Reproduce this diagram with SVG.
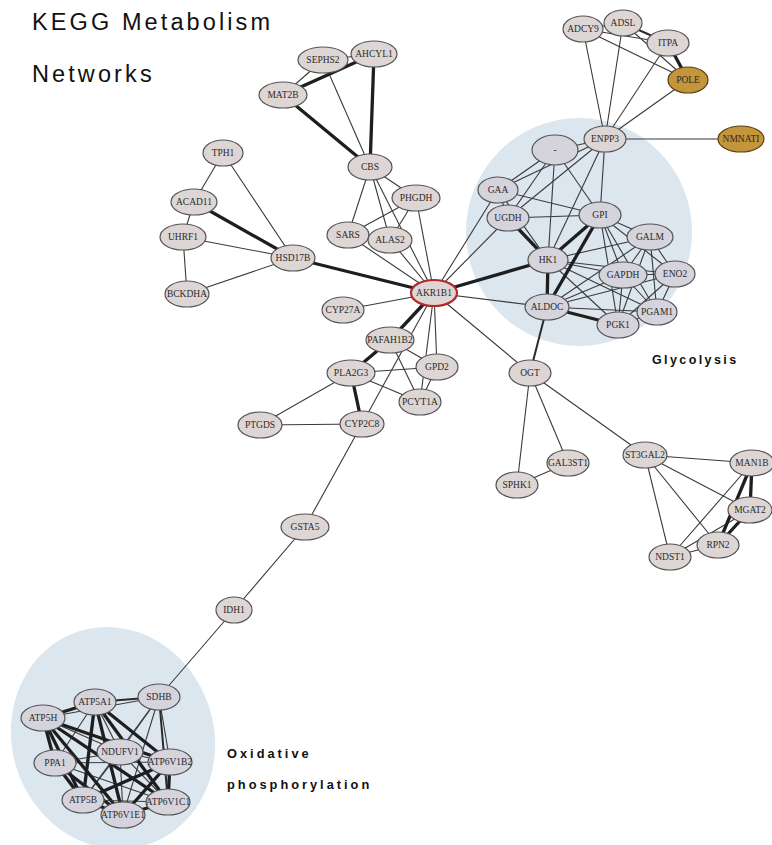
<svg xmlns="http://www.w3.org/2000/svg" width="772" height="845" viewBox="0 0 772 845">
<style>
.bg{fill:#dbe6ee}
.e{stroke:#3a3a3a;stroke-width:1.1;fill:none}
.t{stroke:#1e1e1e;stroke-width:3.3;fill:none}
.m{stroke:#2a2a2a;stroke-width:2;fill:none}
.n ellipse{fill:#ddd6d4;stroke:#555;stroke-width:1.2}
.g ellipse{fill:#d5d3dc;stroke:#555;stroke-width:1.2}
.o ellipse{fill:#c4953a;stroke:#5a4010;stroke-width:1.2}
.r ellipse{fill:#ddd6d4;stroke:#b02a2a;stroke-width:2.2}
.n text,.g text,.o text,.r text{font-family:"Liberation Serif",serif;font-size:9.5px;fill:#2a2a2a;text-anchor:middle}
.title{font-family:"Liberation Sans",Arial,sans-serif;font-size:23.5px;fill:#111;letter-spacing:3.1px}
.cl{font-family:"Liberation Sans",Arial,sans-serif;font-size:12.5px;font-weight:bold;fill:#111;letter-spacing:2.4px}
.cl2{font-family:"Liberation Sans",Arial,sans-serif;font-size:12.8px;font-weight:bold;fill:#111;letter-spacing:3px}
</style>
<rect width="772" height="845" fill="#fff"/>
<text class="title" x="32" y="30">KEGG Metabolism</text>
<text class="title" x="32" y="82">Networks</text>
<ellipse class="bg" cx="579" cy="232" rx="113" ry="114"/>
<ellipse class="bg" cx="113" cy="738" rx="101" ry="112" transform="rotate(-18 113 738)"/>
<text class="cl" x="652" y="364">Glycolysis</text>
<text class="cl2" x="227" y="758">Oxidative</text>
<text class="cl2" x="227" y="789">phosphorylation</text>
<g id="connectors">
<line class="e" x1="323" y1="60" x2="374" y2="54"/>
<line class="e" x1="323" y1="60" x2="283" y2="95"/>
<line class="e" x1="323" y1="60" x2="370" y2="167"/>
<line class="e" x1="370" y1="167" x2="348" y2="235"/>
<line class="e" x1="370" y1="167" x2="390" y2="240"/>
<line class="e" x1="370" y1="167" x2="416" y2="198"/>
<line class="e" x1="370" y1="167" x2="434" y2="293"/>
<line class="e" x1="416" y1="198" x2="348" y2="235"/>
<line class="e" x1="416" y1="198" x2="390" y2="240"/>
<line class="e" x1="416" y1="198" x2="434" y2="293"/>
<line class="e" x1="348" y1="235" x2="434" y2="293"/>
<line class="e" x1="390" y1="240" x2="434" y2="293"/>
<line class="e" x1="223" y1="153" x2="194" y2="202"/>
<line class="e" x1="223" y1="153" x2="293" y2="258"/>
<line class="e" x1="194" y1="202" x2="183" y2="237"/>
<line class="e" x1="183" y1="237" x2="293" y2="258"/>
<line class="e" x1="183" y1="237" x2="187" y2="294"/>
<line class="e" x1="187" y1="294" x2="293" y2="258"/>
<line class="e" x1="434" y1="293" x2="343" y2="310"/>
<line class="e" x1="434" y1="293" x2="437" y2="367"/>
<line class="e" x1="434" y1="293" x2="420" y2="402"/>
<line class="e" x1="434" y1="293" x2="362" y2="424"/>
<line class="e" x1="434" y1="293" x2="530" y2="373"/>
<line class="e" x1="434" y1="293" x2="547" y2="307"/>
<line class="e" x1="434" y1="293" x2="498" y2="190"/>
<line class="e" x1="434" y1="293" x2="508" y2="218"/>
<line class="e" x1="390" y1="340" x2="437" y2="367"/>
<line class="e" x1="390" y1="340" x2="420" y2="402"/>
<line class="e" x1="351" y1="373" x2="437" y2="367"/>
<line class="e" x1="351" y1="373" x2="420" y2="402"/>
<line class="e" x1="351" y1="373" x2="260" y2="425"/>
<line class="e" x1="260" y1="425" x2="362" y2="424"/>
<line class="e" x1="437" y1="367" x2="420" y2="402"/>
<line class="e" x1="362" y1="424" x2="305" y2="527"/>
<line class="e" x1="305" y1="527" x2="234" y2="610"/>
<line class="e" x1="234" y1="610" x2="159" y2="697"/>
<line class="e" x1="530" y1="373" x2="517" y2="485"/>
<line class="e" x1="530" y1="373" x2="568" y2="463"/>
<line class="e" x1="530" y1="373" x2="645" y2="455"/>
<line class="m" x1="547" y1="307" x2="530" y2="373"/>
<line class="e" x1="517" y1="485" x2="568" y2="463"/>
<line class="e" x1="645" y1="455" x2="752" y2="463"/>
<line class="e" x1="645" y1="455" x2="750" y2="510"/>
<line class="e" x1="645" y1="455" x2="718" y2="545"/>
<line class="e" x1="645" y1="455" x2="670" y2="557"/>
<line class="e" x1="752" y1="463" x2="670" y2="557"/>
<line class="e" x1="750" y1="510" x2="670" y2="557"/>
<line class="e" x1="670" y1="557" x2="718" y2="545"/>
<line class="e" x1="583" y1="29" x2="623" y2="23"/>
<line class="e" x1="583" y1="29" x2="668" y2="43"/>
<line class="m" x1="623" y1="23" x2="668" y2="43"/>
<line class="e" x1="583" y1="29" x2="688" y2="80"/>
<line class="e" x1="623" y1="23" x2="688" y2="80"/>
<line class="e" x1="605" y1="139" x2="583" y2="29"/>
<line class="e" x1="605" y1="139" x2="623" y2="23"/>
<line class="e" x1="605" y1="139" x2="668" y2="43"/>
<line class="e" x1="605" y1="139" x2="688" y2="80"/>
<line class="e" x1="605" y1="139" x2="741" y2="139"/>
<line class="e" x1="605" y1="139" x2="555" y2="150"/>
<line class="e" x1="605" y1="139" x2="498" y2="190"/>
<line class="e" x1="605" y1="139" x2="508" y2="218"/>
<line class="e" x1="605" y1="139" x2="548" y2="260"/>
<line class="e" x1="605" y1="139" x2="600" y2="215"/>
<line class="e" x1="555" y1="150" x2="498" y2="190"/>
<line class="e" x1="555" y1="150" x2="508" y2="218"/>
<line class="e" x1="555" y1="150" x2="548" y2="260"/>
<line class="e" x1="555" y1="150" x2="600" y2="215"/>
<line class="e" x1="498" y1="190" x2="508" y2="218"/>
<line class="e" x1="498" y1="190" x2="600" y2="215"/>
<line class="e" x1="498" y1="190" x2="548" y2="260"/>
<line class="e" x1="508" y1="218" x2="600" y2="215"/>
<line class="e" x1="600" y1="215" x2="650" y2="237"/>
<line class="e" x1="600" y1="215" x2="623" y2="275"/>
<line class="e" x1="600" y1="215" x2="675" y2="274"/>
<line class="e" x1="600" y1="215" x2="657" y2="312"/>
<line class="e" x1="600" y1="215" x2="618" y2="325"/>
<line class="e" x1="548" y1="260" x2="650" y2="237"/>
<line class="e" x1="548" y1="260" x2="623" y2="275"/>
<line class="e" x1="548" y1="260" x2="675" y2="274"/>
<line class="e" x1="548" y1="260" x2="657" y2="312"/>
<line class="e" x1="548" y1="260" x2="618" y2="325"/>
<line class="e" x1="547" y1="307" x2="623" y2="275"/>
<line class="e" x1="547" y1="307" x2="650" y2="237"/>
<line class="e" x1="547" y1="307" x2="675" y2="274"/>
<line class="e" x1="547" y1="307" x2="657" y2="312"/>
<line class="e" x1="650" y1="237" x2="623" y2="275"/>
<line class="e" x1="650" y1="237" x2="675" y2="274"/>
<line class="e" x1="650" y1="237" x2="657" y2="312"/>
<line class="e" x1="650" y1="237" x2="618" y2="325"/>
<line class="e" x1="623" y1="275" x2="675" y2="274"/>
<line class="e" x1="623" y1="275" x2="657" y2="312"/>
<line class="e" x1="623" y1="275" x2="618" y2="325"/>
<line class="e" x1="675" y1="274" x2="657" y2="312"/>
<line class="e" x1="675" y1="274" x2="618" y2="325"/>
<line class="e" x1="657" y1="312" x2="618" y2="325"/>
<line class="t" x1="283" y1="95" x2="374" y2="54"/>
<line class="t" x1="283" y1="95" x2="370" y2="167"/>
<line class="t" x1="374" y1="54" x2="370" y2="167"/>
<line class="t" x1="194" y1="202" x2="293" y2="258"/>
<line class="t" x1="293" y1="258" x2="434" y2="293"/>
<line class="t" x1="434" y1="293" x2="548" y2="260"/>
<line class="t" x1="434" y1="293" x2="390" y2="340"/>
<line class="t" x1="390" y1="340" x2="351" y2="373"/>
<line class="t" x1="351" y1="373" x2="362" y2="424"/>
<line class="t" x1="668" y1="43" x2="688" y2="80"/>
<line class="t" x1="508" y1="218" x2="548" y2="260"/>
<line class="t" x1="600" y1="215" x2="548" y2="260"/>
<line class="t" x1="600" y1="215" x2="547" y2="307"/>
<line class="t" x1="548" y1="260" x2="547" y2="307"/>
<line class="t" x1="547" y1="307" x2="618" y2="325"/>
<line class="t" x1="752" y1="463" x2="750" y2="510"/>
<line class="t" x1="752" y1="463" x2="718" y2="545"/>
<line class="t" x1="750" y1="510" x2="718" y2="545"/>
<line class="m" x1="159" y1="697" x2="95" y2="702"/>
<line class="e" x1="159" y1="697" x2="43" y2="718"/>
<line class="e" x1="159" y1="697" x2="120" y2="752"/>
<line class="e" x1="159" y1="697" x2="170" y2="762"/>
<line class="m" x1="159" y1="697" x2="168" y2="802"/>
<line class="e" x1="159" y1="697" x2="83" y2="800"/>
<line class="e" x1="159" y1="697" x2="123" y2="815"/>
<line class="e" x1="120" y1="752" x2="95" y2="702"/>
<line class="e" x1="120" y1="752" x2="43" y2="718"/>
<line class="e" x1="120" y1="752" x2="55" y2="763"/>
<line class="e" x1="120" y1="752" x2="170" y2="762"/>
<line class="e" x1="120" y1="752" x2="83" y2="800"/>
<line class="e" x1="120" y1="752" x2="123" y2="815"/>
<line class="e" x1="120" y1="752" x2="168" y2="802"/>
<line class="e" x1="55" y1="763" x2="170" y2="762"/>
<line class="e" x1="55" y1="763" x2="168" y2="802"/>
<line class="e" x1="55" y1="763" x2="95" y2="702"/>
<line class="t" x1="43" y1="718" x2="95" y2="702"/>
<line class="t" x1="43" y1="718" x2="170" y2="762"/>
<line class="t" x1="43" y1="718" x2="168" y2="802"/>
<line class="t" x1="43" y1="718" x2="123" y2="815"/>
<line class="t" x1="43" y1="718" x2="83" y2="800"/>
<line class="t" x1="43" y1="718" x2="55" y2="763"/>
<line class="t" x1="95" y1="702" x2="170" y2="762"/>
<line class="t" x1="95" y1="702" x2="83" y2="800"/>
<line class="t" x1="95" y1="702" x2="168" y2="802"/>
<line class="t" x1="95" y1="702" x2="123" y2="815"/>
<line class="t" x1="55" y1="763" x2="123" y2="815"/>
<line class="t" x1="55" y1="763" x2="83" y2="800"/>
<line class="t" x1="83" y1="800" x2="170" y2="762"/>
<line class="t" x1="83" y1="800" x2="123" y2="815"/>
<line class="e" x1="83" y1="800" x2="168" y2="802"/>
<line class="t" x1="170" y1="762" x2="168" y2="802"/>
<line class="t" x1="170" y1="762" x2="123" y2="815"/>
<line class="t" x1="123" y1="815" x2="168" y2="802"/>
</g>
<g id="SEPHS2" class="n"><ellipse cx="323" cy="60" rx="25" ry="13"/><text x="323" y="63">SEPHS2</text></g>
<g id="AHCYL1" class="n"><ellipse cx="374" cy="54" rx="23" ry="13"/><text x="374" y="57">AHCYL1</text></g>
<g id="MAT2B" class="n"><ellipse cx="283" cy="95" rx="24" ry="13"/><text x="283" y="98">MAT2B</text></g>
<g id="CBS" class="n"><ellipse cx="370" cy="167" rx="22" ry="13"/><text x="370" y="170">CBS</text></g>
<g id="PHGDH" class="n"><ellipse cx="416" cy="198" rx="24" ry="13"/><text x="416" y="201">PHGDH</text></g>
<g id="SARS" class="n"><ellipse cx="348" cy="235" rx="21" ry="13"/><text x="348" y="238">SARS</text></g>
<g id="ALAS2" class="n"><ellipse cx="390" cy="240" rx="22" ry="13"/><text x="390" y="243">ALAS2</text></g>
<g id="TPH1" class="n"><ellipse cx="223" cy="153" rx="20" ry="13"/><text x="223" y="156">TPH1</text></g>
<g id="ACAD11" class="n"><ellipse cx="194" cy="202" rx="23" ry="13"/><text x="194" y="205">ACAD11</text></g>
<g id="UHRF1" class="n"><ellipse cx="183" cy="237" rx="23" ry="13"/><text x="183" y="240">UHRF1</text></g>
<g id="HSD17B" class="n"><ellipse cx="293" cy="258" rx="22" ry="13"/><text x="293" y="261">HSD17B</text></g>
<g id="BCKDHA" class="n"><ellipse cx="187" cy="294" rx="22" ry="13"/><text x="187" y="297">BCKDHA</text></g>
<g id="AKR1B1" class="r"><ellipse cx="434" cy="293" rx="23" ry="13"/><text x="434" y="296">AKR1B1</text></g>
<g id="CYP27A" class="n"><ellipse cx="343" cy="310" rx="21" ry="13"/><text x="343" y="313">CYP27A</text></g>
<g id="PAFAH1B2" class="n"><ellipse cx="390" cy="340" rx="24" ry="13"/><text x="390" y="343">PAFAH1B2</text></g>
<g id="PLA2G3" class="n"><ellipse cx="351" cy="373" rx="24" ry="13"/><text x="351" y="376">PLA2G3</text></g>
<g id="GPD2" class="n"><ellipse cx="437" cy="367" rx="21" ry="13"/><text x="437" y="370">GPD2</text></g>
<g id="PCYT1A" class="n"><ellipse cx="420" cy="402" rx="21" ry="13"/><text x="420" y="405">PCYT1A</text></g>
<g id="CYP2C8" class="n"><ellipse cx="362" cy="424" rx="22" ry="13"/><text x="362" y="427">CYP2C8</text></g>
<g id="PTGDS" class="n"><ellipse cx="260" cy="425" rx="22" ry="13"/><text x="260" y="428">PTGDS</text></g>
<g id="GSTA5" class="n"><ellipse cx="305" cy="527" rx="24" ry="13"/><text x="305" y="530">GSTA5</text></g>
<g id="IDH1" class="n"><ellipse cx="234" cy="610" rx="18" ry="13"/><text x="234" y="613">IDH1</text></g>
<g id="OGT" class="n"><ellipse cx="530" cy="373" rx="21" ry="13"/><text x="530" y="376">OGT</text></g>
<g id="GAL3ST1" class="n"><ellipse cx="568" cy="463" rx="21" ry="13"/><text x="568" y="466">GAL3ST1</text></g>
<g id="SPHK1" class="n"><ellipse cx="517" cy="485" rx="21" ry="13"/><text x="517" y="488">SPHK1</text></g>
<g id="ST3GAL2" class="n"><ellipse cx="645" cy="455" rx="22" ry="13"/><text x="645" y="458">ST3GAL2</text></g>
<g id="MAN1B" class="n"><ellipse cx="752" cy="463" rx="22" ry="13"/><text x="752" y="466">MAN1B</text></g>
<g id="MGAT2" class="n"><ellipse cx="750" cy="510" rx="22" ry="13"/><text x="750" y="513">MGAT2</text></g>
<g id="RPN2" class="n"><ellipse cx="718" cy="545" rx="21" ry="13"/><text x="718" y="548">RPN2</text></g>
<g id="NDST1" class="n"><ellipse cx="670" cy="557" rx="21" ry="13"/><text x="670" y="560">NDST1</text></g>
<g id="ADCY9" class="n"><ellipse cx="583" cy="29" rx="20" ry="13"/><text x="583" y="32">ADCY9</text></g>
<g id="ADSL" class="n"><ellipse cx="623" cy="23" rx="19" ry="13"/><text x="623" y="26">ADSL</text></g>
<g id="ITPA" class="n"><ellipse cx="668" cy="43" rx="21" ry="13"/><text x="668" y="46">ITPA</text></g>
<g id="POLE" class="o"><ellipse cx="688" cy="80" rx="20" ry="13"/><text x="688" y="83">POLE</text></g>
<g id="ENPP3" class="n"><ellipse cx="605" cy="139" rx="21" ry="13"/><text x="605" y="142">ENPP3</text></g>
<g id="NMNATI" class="o"><ellipse cx="741" cy="139" rx="23" ry="13"/><text x="741" y="142">NMNATI</text></g>
<g id="dash" class="g"><ellipse cx="555" cy="150" rx="23" ry="15"/><text x="555" y="153">-</text></g>
<g id="GAA" class="g"><ellipse cx="498" cy="190" rx="20" ry="13"/><text x="498" y="193">GAA</text></g>
<g id="UGDH" class="g"><ellipse cx="508" cy="218" rx="21" ry="13"/><text x="508" y="221">UGDH</text></g>
<g id="GPI" class="g"><ellipse cx="600" cy="215" rx="21" ry="13"/><text x="600" y="218">GPI</text></g>
<g id="GALM" class="g"><ellipse cx="650" cy="237" rx="23" ry="13"/><text x="650" y="240">GALM</text></g>
<g id="HK1" class="g"><ellipse cx="548" cy="260" rx="20" ry="13"/><text x="548" y="263">HK1</text></g>
<g id="GAPDH" class="g"><ellipse cx="623" cy="275" rx="24" ry="13"/><text x="623" y="278">GAPDH</text></g>
<g id="ENO2" class="g"><ellipse cx="675" cy="274" rx="20" ry="13"/><text x="675" y="277">ENO2</text></g>
<g id="ALDOC" class="g"><ellipse cx="547" cy="307" rx="22" ry="13"/><text x="547" y="310">ALDOC</text></g>
<g id="PGAM1" class="g"><ellipse cx="657" cy="312" rx="20" ry="13"/><text x="657" y="315">PGAM1</text></g>
<g id="PGK1" class="g"><ellipse cx="618" cy="325" rx="21" ry="13"/><text x="618" y="328">PGK1</text></g>
<g id="SDHB" class="g"><ellipse cx="159" cy="697" rx="21" ry="13"/><text x="159" y="700">SDHB</text></g>
<g id="ATP5A1" class="g"><ellipse cx="95" cy="702" rx="21" ry="13"/><text x="95" y="705">ATP5A1</text></g>
<g id="ATP5H" class="g"><ellipse cx="43" cy="718" rx="22" ry="13"/><text x="43" y="721">ATP5H</text></g>
<g id="NDUFV1" class="g"><ellipse cx="120" cy="752" rx="23" ry="13"/><text x="120" y="755">NDUFV1</text></g>
<g id="ATP6V1B2" class="g"><ellipse cx="170" cy="762" rx="22" ry="13"/><text x="170" y="765">ATP6V1B2</text></g>
<g id="PPA1" class="g"><ellipse cx="55" cy="763" rx="21" ry="13"/><text x="55" y="766">PPA1</text></g>
<g id="ATP5B" class="g"><ellipse cx="83" cy="800" rx="21" ry="13"/><text x="83" y="803">ATP5B</text></g>
<g id="ATP6V1C1" class="g"><ellipse cx="168" cy="802" rx="22" ry="13"/><text x="168" y="805">ATP6V1C1</text></g>
<g id="ATP6V1E1" class="g"><ellipse cx="123" cy="815" rx="22" ry="13"/><text x="123" y="818">ATP6V1E1</text></g>
</svg>
